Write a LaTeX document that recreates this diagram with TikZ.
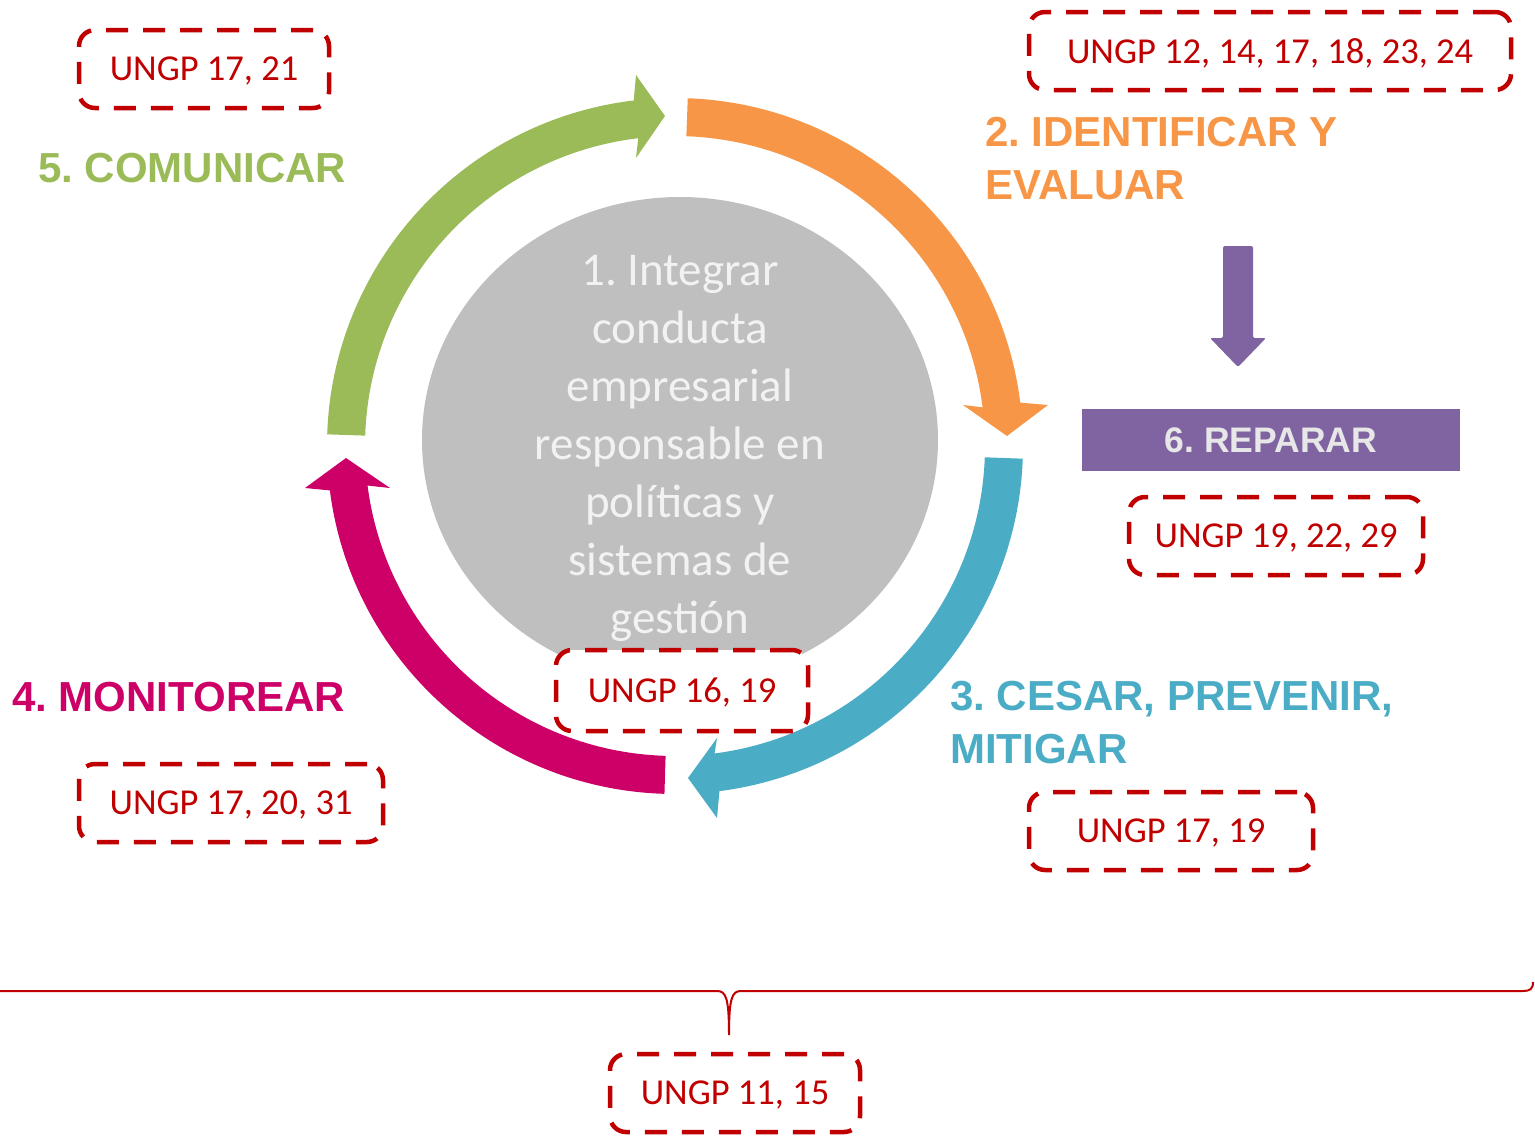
\documentclass[tikz,border=0pt]{standalone}
\usepackage{fontspec}
\setmainfont{Carlito}
\newfontfamily\labfont{Liberation Sans}
\usetikzlibrary{calc}
\definecolor{cgreen}{HTML}{9BBB59}
\definecolor{corange}{HTML}{F79646}
\definecolor{cblue}{HTML}{4BACC6}
\definecolor{cmag}{HTML}{CC0066}
\definecolor{cpurp}{HTML}{8064A2}
\definecolor{cgrey}{HTML}{BFBFBF}
\definecolor{cred}{HTML}{C00000}
\definecolor{ctxt}{HTML}{F2F2F2}
\frenchspacing
\begin{document}
\begin{tikzpicture}[x=1pt,y=-1pt,
  ungp/.style={draw=cred, line width=4.5pt, dash pattern=on 22pt off 15pt,
    rounded corners=16pt, minimum height=78pt, text=cred, inner sep=0pt,
    text depth=0pt, font=\fontsize{36.5}{42}\selectfont},
  steplabel/.style={font=\labfont\bfseries\fontsize{42}{53}\selectfont,
    align=left, inner sep=0pt, anchor=west}]
\useasboundingbox (0,0) rectangle (1535,1136);
\coordinate (c) at (675,446);

% central disc
\fill[cgrey] (680,440) ellipse [x radius=258, y radius=243];
\node[align=center, text=ctxt, inner sep=0pt, font=\fontsize{47}{58}\selectfont]
  (core) at (680,448) {1. Integrar\\conducta\\empresarial\\responsable en\\políticas y\\sistemas de\\gestión};

% orange arrow (top -> right)
\fill[corange] ($(c)+(-87.9:348)$) arc[start angle=-87.9, end angle=-7.16, radius=348]
  -- (1048,405) -- (1007,436) -- (963,405)
  -- ($(c)+(-7.16:310)$) arc[start angle=-7.16, end angle=-87.9, radius=310] -- cycle;
% blue arrow (right -> bottom)
\fill[cblue] ($(c)+(2.09:348)$) arc[start angle=2.09, end angle=82.66, radius=348]
  -- (717,818) -- (688,778) -- (717,738)
  -- ($(c)+(82.66:310)$) arc[start angle=82.66, end angle=2.09, radius=310] -- cycle;
% magenta arrow (bottom -> left)
\fill[cmag] ($(c)+(91.74:348)$) arc[start angle=91.74, end angle=172.67, radius=348]
  -- (305,488) -- (346,458) -- (390,488)
  -- ($(c)+(172.67:310)$) arc[start angle=172.67, end angle=91.74, radius=310] -- cycle;
% green arrow (left -> top)
\fill[cgreen] ($(c)+(181.92:348)$) arc[start angle=181.92, end angle=263.19, radius=348]
  -- (636,75) -- (665,116) -- (636,158)
  -- ($(c)+(263.19:310)$) arc[start angle=263.19, end angle=181.92, radius=310] -- cycle;

% step labels
\node[steplabel, text=cgreen] (l5) at (38,168) {5. COMUNICAR};
\node[steplabel, text=corange] (l2) at (985,158.5) {2. IDENTIFICAR Y\\EVALUAR};
\node[steplabel, text=cmag] (l4) at (12,697) {4. MONITOREAR};
\node[steplabel, text=cblue] (l3) at (950,723) {3. CESAR, PREVENIR,\\MITIGAR};

% reparar
\fill[cpurp, rounded corners=2pt] (1223,246) -- (1253,246) -- (1253,338) -- (1266,338)
  -- (1238,367) -- (1210,338) -- (1223,338) -- cycle;
\node[fill=cpurp, minimum width=378pt, minimum height=62pt, inner sep=0pt,
  text=ctxt!90!gray, font=\labfont\bfseries\fontsize{35.5}{40}\selectfont]
  (rep) at (1271,440) {6. REPARAR};

% dashed reference boxes
\node[ungp, minimum width=250pt] (b1) at (204,69) {UNGP 17, 21};
\node[ungp, minimum width=482pt] (b2) at (1270,51) {UNGP 12, 14, 17, 18, 23, 24};
\node[ungp, minimum width=294pt] (b3) at (1276,536) {UNGP 19, 22, 29};
\node[ungp, fill=white, minimum width=252pt, minimum height=81pt] (b4) at (682,690.5) {UNGP 16, 19};
\node[ungp, minimum width=304pt] (b5) at (231,803) {UNGP 17, 20, 31};
\node[ungp, minimum width=284pt] (b6) at (1171,831) {UNGP 17, 19};
\node[ungp, minimum width=250pt] (b7) at (735,1093) {UNGP 11, 15};

% bottom brace
\coordinate (tip) at (729,1035);
\draw[cred, line width=2pt] (-75,982) .. controls (-73,989) and (-70,991) .. (-62,991)
  -- (717,991) .. controls (726,991) and (729,998) .. (tip)
  .. controls (729,998) and (732,991) .. (741,991)
  -- (1523,991) .. controls (1530,991) and (1533,989) .. (1533,982);
\end{tikzpicture}
\end{document}
